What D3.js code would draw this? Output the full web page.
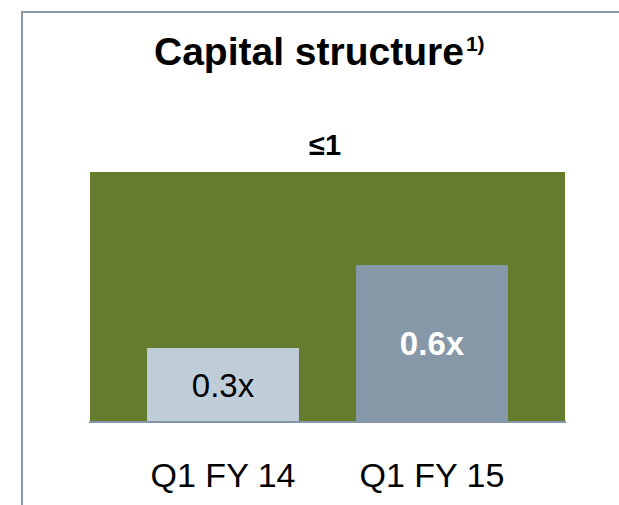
<!DOCTYPE html>
<html>
<head>
<meta charset="utf-8">
<script src="https://cdn.jsdelivr.net/npm/d3@7"></script>
<style>
  html, body { margin: 0; padding: 0; background: #fff; }
  svg { display: block; font-family: "Liberation Sans", Arial, sans-serif; }
</style>
</head>
<body>
<div id="chart"></div>
<script>
const WIDTH = 619;
const HEIGHT = 505;

const categories = ["Q1 FY 14", "Q1 FY 15"];
const values = [0.296, 0.628];
const valueLabels = ["0.3x", "0.6x"];
const targetValue = 1;
const targetLabel = "\u22641";

const COLORS = {
  target: "#657b2e",
  bars: ["#bfcdd8", "#8799a8"],
  frame: "#8a9aa8",
  baseline: "#8497a8",
};

const svg = d3
  .select("#chart")
  .append("svg")
  .attr("width", WIDTH)
  .attr("height", HEIGHT);

// frame (top + left)
svg.append("line")
  .attr("x1", 21).attr("x2", WIDTH).attr("y1", 12).attr("y2", 12)
  .attr("stroke", COLORS.frame).attr("stroke-width", 2);
svg.append("line")
  .attr("x1", 22).attr("x2", 22).attr("y1", 11).attr("y2", HEIGHT)
  .attr("stroke", COLORS.frame).attr("stroke-width", 2);

const x = d3.scaleBand().domain(categories).range([90, 565]).paddingInner(0.273).paddingOuter(0.273);
const y = d3.scaleLinear().domain([0, targetValue]).range([422, 172]);

// title
const title = svg.append("text")
  .attr("x", 154)
  .attr("y", 65)
  .attr("font-size", 39)
  .attr("font-weight", "bold")
  .attr("fill", "#000");
title.append("tspan").text("Capital structure");
title.append("tspan").attr("font-size", 21).attr("dx", 2).attr("dy", -14).text("1)");

// target area
svg.append("rect")
  .attr("x", x.range()[0])
  .attr("width", x.range()[1] - x.range()[0])
  .attr("y", y(targetValue))
  .attr("height", y(0) - y(targetValue))
  .attr("fill", COLORS.target);

svg.append("text")
  .attr("x", 325)
  .attr("y", 155)
  .attr("text-anchor", "middle")
  .attr("font-size", 29)
  .attr("font-weight", "bold")
  .text(targetLabel);

// bars
svg.append("g")
  .selectAll("rect")
  .data(values)
  .join("rect")
  .attr("x", (d, i) => x(categories[i]))
  .attr("width", x.bandwidth())
  .attr("y", (d) => y(d))
  .attr("height", (d) => y(0) - y(d))
  .attr("fill", (d, i) => COLORS.bars[i]);

// value labels
svg.append("g")
  .selectAll("text")
  .data(values)
  .join("text")
  .attr("x", (d, i) => x(categories[i]) + x.bandwidth() / 2)
  .attr("y", (d) => (y(d) + y(0)) / 2)
  .attr("dy", "0.36em")
  .attr("text-anchor", "middle")
  .attr("font-size", 33)
  .attr("font-weight", (d, i) => (i === 1 ? "bold" : "normal"))
  .attr("fill", (d, i) => (i === 1 ? "#fff" : "#000"))
  .text((d, i) => valueLabels[i]);

// baseline
svg.append("line")
  .attr("x1", x.range()[0] - 1)
  .attr("x2", x.range()[1] + 1)
  .attr("y1", y(0))
  .attr("y2", y(0))
  .attr("stroke", COLORS.baseline)
  .attr("stroke-width", 2);

// category labels
const xAxis = svg.append("g")
  .attr("transform", `translate(0,${y(0)})`)
  .call(d3.axisBottom(x).tickSize(0).tickPadding(0));
xAxis.select(".domain").remove();
xAxis.selectAll("text")
  .attr("y", 65)
  .attr("dy", 0)
  .attr("font-size", 34)
  .attr("font-family", "Liberation Sans, Arial, sans-serif")
  .attr("fill", "#000");
</script>
</body>
</html>
